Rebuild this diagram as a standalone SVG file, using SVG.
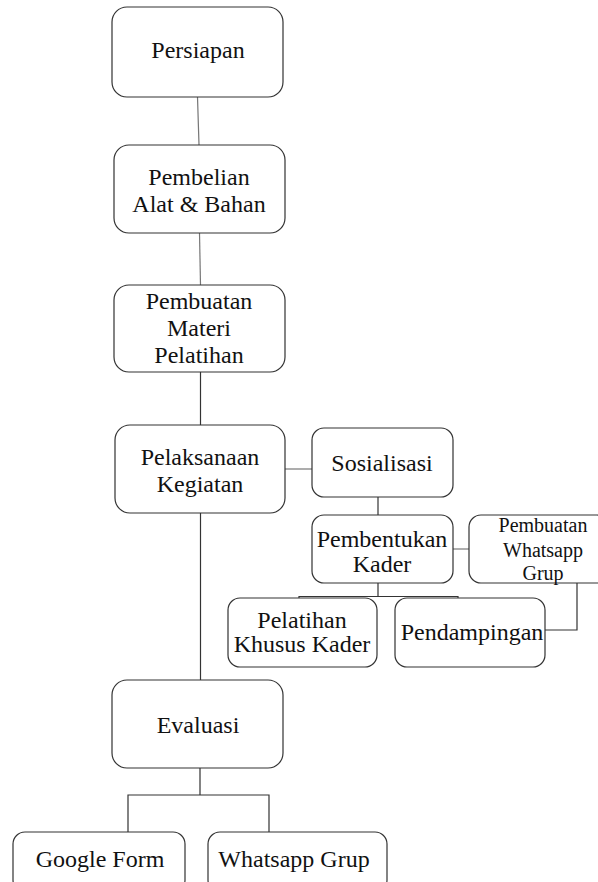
<svg xmlns="http://www.w3.org/2000/svg" width="598" height="882" viewBox="0 0 598 882">
<style>
.box{fill:#fff;stroke:#333;stroke-width:1.2}
.t{font-family:"Liberation Serif","Times New Roman",serif;font-size:24px;fill:#111;text-anchor:middle}
.s{font-size:20px}
.c{fill:none;stroke:#333;stroke-width:1.2}
.g{stroke:#777}
</style>
<rect width="598" height="882" fill="#fff"/>
<g id="connectors">
<path class="c g" d="M197.5,97 L199,145"/>
<path class="c g" d="M199.5,233 L200.5,285"/>
<path class="c" d="M200.5,372 L200.5,425"/>
<path class="c g" d="M285,469 L312,469"/>
<path class="c" d="M378,497 L378,515"/>
<path class="c g" d="M453,549 L469,549"/>
<path class="c" d="M378,583 L378,596.5 M299,598 L299,596.5 L458,596.5 L458,598"/>
<path class="c" d="M577,583 L577,630 L545,630"/>
<path class="c" d="M200.5,513 L200.5,680"/>
<path class="c" d="M200,768 L200,795 M128,832 L128,795 L269,795 L269,832"/>
</g>
<g id="persiapan"><rect class="box" x="112" y="7" width="171" height="90" rx="15"/><text class="t" x="198" y="58">Persiapan</text></g>
<g id="pembelian"><rect class="box" x="114" y="145" width="171" height="88" rx="15"/><text class="t" x="199" y="185">Pembelian</text><text class="t" x="199" y="212">Alat &amp; Bahan</text></g>
<g id="pembuatan-materi"><rect class="box" x="114" y="285" width="171" height="87" rx="15"/><text class="t" x="199" y="309">Pembuatan</text><text class="t" x="199" y="336">Materi</text><text class="t" x="199" y="363">Pelatihan</text></g>
<g id="pelaksanaan"><rect class="box" x="115" y="425" width="170" height="88" rx="15"/><text class="t" x="200" y="465">Pelaksanaan</text><text class="t" x="200" y="492">Kegiatan</text></g>
<g id="sosialisasi"><rect class="box" x="312" y="428" width="141" height="69" rx="12"/><text class="t" x="382" y="471">Sosialisasi</text></g>
<g id="pembentukan"><rect class="box" x="312" y="515" width="141" height="68" rx="12"/><text class="t" x="382" y="547">Pembentukan</text><text class="t" x="382" y="572">Kader</text></g>
<g id="whatsapp-grup-pembuatan"><rect class="box" x="469" y="515" width="140" height="68" rx="12"/><text class="t s" x="543" y="532">Pembuatan</text><text class="t s" x="543" y="557">Whatsapp</text><text class="t s" x="543" y="580">Grup</text></g>
<g id="pelatihan-khusus"><rect class="box" x="228" y="598" width="149" height="69" rx="12"/><text class="t" x="302" y="628">Pelatihan</text><text class="t" x="302" y="652">Khusus Kader</text></g>
<g id="pendampingan"><rect class="box" x="395" y="598" width="150" height="69" rx="12"/><text class="t" x="472" y="640">Pendampingan</text></g>
<g id="evaluasi"><rect class="box" x="112" y="680" width="171" height="88" rx="15"/><text class="t" x="198" y="733">Evaluasi</text></g>
<g id="google-form"><rect class="box" x="13" y="832" width="172" height="60" rx="12"/><text class="t" x="100" y="867">Google Form</text></g>
<g id="whatsapp-grup"><rect class="box" x="208" y="832" width="179" height="60" rx="12"/><text class="t" x="294" y="867">Whatsapp Grup</text></g>
</svg>
